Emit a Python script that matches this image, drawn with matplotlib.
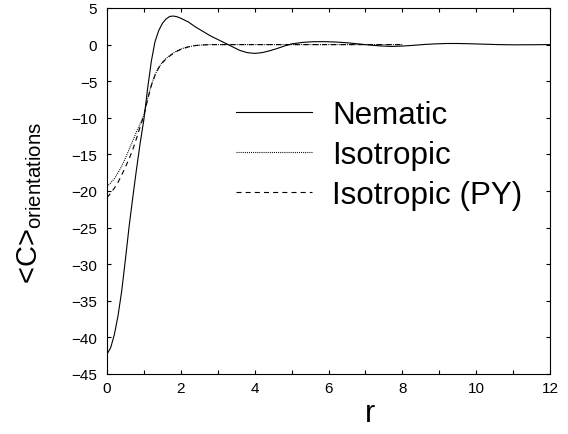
import matplotlib
matplotlib.use("Agg")
import matplotlib.pyplot as plt
from matplotlib.ticker import MultipleLocator

plt.rcParams['font.family'] = ['Liberation Sans', 'DejaVu Sans']
plt.rcParams['mathtext.fontset'] = 'custom'
plt.rcParams['mathtext.rm'] = 'Liberation Sans'
plt.rcParams['mathtext.it'] = 'Liberation Sans:italic'
plt.rcParams['mathtext.bf'] = 'Liberation Sans:bold'
plt.rcParams['lines.scale_dashes'] = False

# nematic curve
r_nem = [0, 0.1, 0.2, 0.3, 0.4, 0.5, 0.6, 0.7, 0.8, 0.9, 1.0, 1.1, 1.2, 1.3,
         1.4, 1.5, 1.6, 1.7, 1.8, 1.9, 2.0, 2.2, 2.4, 2.6, 2.8, 3.0, 3.2, 3.4,
         3.6, 3.8, 4.0, 4.2, 4.4, 4.6, 4.8, 5.0, 5.3, 5.6, 5.9, 6.2, 6.5, 6.8,
         7.1, 7.4, 7.7, 8.0, 8.3, 8.6, 8.9, 9.2, 9.5, 9.8, 10.2, 10.6, 11.0,
         11.5, 12.0]
c_nem = [-42.3, -41.4, -39.6, -37.0, -33.6, -29.3, -24.8, -20.8, -17.0,
         -13.4, -10.2, -6.0, -2.3, 0.4, 1.9, 2.9, 3.5, 3.85, 3.9, 3.8, 3.6,
         3.1, 2.4, 1.8, 1.2, 0.7, 0.2, -0.3, -0.8, -1.1, -1.2, -1.1, -0.85,
         -0.55, -0.2, 0.1, 0.3, 0.4, 0.4, 0.35, 0.25, 0.1, -0.05, -0.18,
         -0.25, -0.2, -0.1, 0.02, 0.1, 0.15, 0.15, 0.12, 0.06, 0.0, -0.03,
         -0.02, 0.0]

# isotropic curves
r_iso = [0, 0.1, 0.2, 0.3, 0.4, 0.5, 0.6, 0.7, 0.8, 0.9, 1.0, 1.1, 1.2, 1.3,
         1.4, 1.5, 1.6, 1.7, 1.8, 1.9, 2.0, 2.2, 2.4, 2.6, 2.8, 3.0, 4.0, 5.0,
         6.0, 7.0, 8.0]
c_iso = [-19.4, -18.9, -18.3, -17.5, -16.6, -15.5, -14.3, -13.1, -11.9,
         -10.8, -9.6, -7.4, -5.5, -4.1, -3.1, -2.4, -1.9, -1.5, -1.15, -0.85,
         -0.6, -0.3, -0.12, -0.04, 0.0, 0.0, 0.0, 0.0, 0.0, 0.0, 0.0]
c_py = [-20.9, -20.3, -19.6, -18.8, -17.8, -16.7, -15.6, -14.3, -12.8,
        -11.2, -9.7, -7.5, -5.6, -4.2, -3.2, -2.5, -1.95, -1.55, -1.2, -0.9,
        -0.65, -0.32, -0.13, -0.05, 0.0, 0.0, 0.0, 0.0, 0.0, 0.0, 0.0]

labels = ['Nematic', 'Isotropic', 'Isotropic (PY)']

fig = plt.figure(figsize=(5.68, 4.35), dpi=100)
ax = fig.add_axes([107 / 568, 1 - 375 / 435, 443 / 568, 366 / 435])

lw = 0.8
ax.plot(r_nem, c_nem, color='black', lw=lw, label=labels[0])
ax.plot(r_iso, c_iso, color='black', lw=lw, dashes=(0.7, 0.8), label=labels[1])
ax.plot(r_iso, c_py, color='black', lw=lw, dashes=(3.6, 3.0), label=labels[2])

ax.set_xlim(0, 12)
ax.set_ylim(-45, 5)
ax.xaxis.set_major_locator(MultipleLocator(2))
ax.xaxis.set_minor_locator(MultipleLocator(1))
ax.yaxis.set_major_locator(MultipleLocator(5))
ax.tick_params(which='both', direction='in', top=True, right=True,
               length=3, width=0.8, labelsize=11)
ax.tick_params(axis='x', pad=5)
ax.tick_params(axis='y', pad=7)
for s in ax.spines.values():
    s.set_linewidth(0.8)

ax.set_xlabel('r', fontsize=22)
ax.xaxis.set_label_coords(0.594, -0.066)
ax.set_ylabel(r'<C>$_{\rm orientations}$', fontsize=21)
ax.yaxis.set_label_coords(-0.142, 0.47)

leg = ax.legend(frameon=False, loc='upper left',
                bbox_to_anchor=(236 / 568, 1 - 101 / 435),
                bbox_transform=fig.transFigure,
                fontsize=22.6, handlelength=2.42, handletextpad=0.64,
                labelspacing=0.32, borderpad=0, borderaxespad=0)

fig.savefig('out.png', dpi=100)
